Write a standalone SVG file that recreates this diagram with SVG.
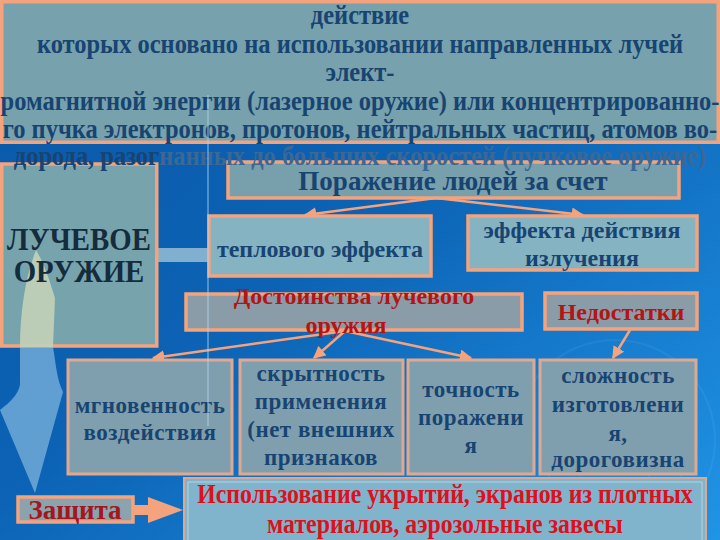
<svg xmlns="http://www.w3.org/2000/svg" width="720" height="540" viewBox="0 0 720 540">
<defs>
<linearGradient id="bg" x1="0" y1="0" x2="1" y2="1">
<stop offset="0" stop-color="#0a58a8"/>
<stop offset="0.45" stop-color="#0c62b4"/>
<stop offset="1" stop-color="#2094e6"/>
</linearGradient>
<marker id="ah" viewBox="0 0 10 10" refX="9" refY="5" markerWidth="5" markerHeight="5" orient="auto" markerUnits="strokeWidth">
<path d="M0,0 L10,5 L0,10 z" fill="#f4a37c"/>
</marker>
<style>
.box{stroke:#f4a37c;stroke-width:3.5}
.thin{stroke:#e2a88e;stroke-width:3}
.t{font-family:"Liberation Serif","Times New Roman",serif;font-weight:bold;text-anchor:middle}
.dk{fill:#174471}
.rd{fill:#b51414}
.conn{stroke:#f4a37c;stroke-width:2.5;fill:none}
</style>
</defs>
<rect width="720" height="540" fill="url(#bg)"/>
<g fill="none" stroke="#ffffff" stroke-opacity="0.06" stroke-width="2">
<circle cx="615" cy="440" r="50"/><circle cx="615" cy="440" r="75"/><circle cx="615" cy="440" r="100"/>
</g>

<g id="intro">
<rect class="box" x="1.75" y="1.75" width="716.5" height="140.5" fill="#77a1ac"/>
<g class="t dk" font-size="27.5" transform="translate(360 0) scale(0.89 1)">
<text x="0" y="24">действие</text>
<text x="0" y="53">которых основано на использовании направленных лучей</text>
<text x="0" y="81">элект-</text>
<text x="0" y="110">ромагнитной энергии (лазерное оружие) или концентрированно-</text>
<text x="0" y="138">го пучка электронов, протонов, нейтральных частиц, атомов во-</text>
</g>
</g>

<g id="connectors">
<rect x="157" y="248" width="52" height="14" fill="#a9c9d8" fill-opacity="0.75"/>
<line class="conn" x1="436" y1="198" x2="305" y2="215" marker-end="url(#ah)"/>
<line class="conn" x1="436" y1="198" x2="583" y2="215" marker-end="url(#ah)"/>
<line class="conn" x1="345" y1="331" x2="153" y2="358" marker-end="url(#ah)"/>
<line class="conn" x1="345" y1="331" x2="314" y2="358" marker-end="url(#ah)"/>
<line class="conn" x1="345" y1="331" x2="471" y2="358" marker-end="url(#ah)"/>
<line class="conn" x1="630" y1="330" x2="613" y2="358" marker-end="url(#ah)"/>
<path d="M133,505 L148,505 L148,497 L183,510 L148,523 L148,515 L133,515 z" fill="#f4a37c"/>
</g>

<g id="luchevoe">
<rect class="box" x="1.75" y="164" width="155" height="182" fill="#77a3ad"/>
<path d="M36,250 C45,265 50,282 55,298 L53,347 L20,347 C20,310 26,275 36,250 z" fill="#c2d2b8" fill-opacity="0.9"/>
<g class="t" fill="#142c3c" font-size="31" transform="translate(79 0) scale(0.93 1)">
<text x="0" y="250">ЛУЧЕВОЕ</text>
<text x="0" y="282">ОРУЖИЕ</text>
</g>
</g>

<path d="M20,347 L53,347 C56,365 57,380 63,392 L35,493 L0,410 C10,402 18,395 20,385 z" fill="#8fc0e2" fill-opacity="0.65"/>

<g id="porazhenie">
<rect class="box" x="228" y="162" width="451" height="36" fill="#789fac"/>
<text class="t dk" x="453" y="190" font-size="27">Поражение людей за счет</text>
</g>

<g class="t dk" font-size="27.5" transform="translate(360 0) scale(0.89 1)">
<text x="0" y="165">дорода, разог<tspan fill="#3b6895">нанных до больших скоростей (пучковое оружие)</tspan></text>
</g>

<g id="teplovoy">
<rect class="box" x="209" y="216" width="222" height="60" fill="#86b3c2"/>
<text class="t dk" x="320" y="257" font-size="24">теплового эффекта</text>
</g>

<g id="effekt">
<rect class="box" x="468" y="216" width="229" height="54" fill="#86b3c2"/>
<g class="t dk" font-size="24">
<text x="582" y="238">эффекта действия</text>
<text x="582" y="266">излучения</text>
</g>
</g>

<g id="dostoinstva">
<rect class="box" x="186" y="294" width="336" height="36" fill="#8a9ca8"/>
<g class="t rd" font-size="24">
<text x="354" y="304">Достоинства лучевого</text>
<text x="346" y="333">оружия</text>
</g>
</g>

<g id="nedostatki">
<rect class="box" x="545" y="293" width="152" height="36" fill="#8a9ca8"/>
<text class="t rd" x="621" y="320" font-size="24">Недостатки</text>
</g>

<g id="mgnovennost">
<rect class="thin" x="68" y="360" width="164" height="114" fill="#809fae"/>
<g class="t dk" font-size="23" letter-spacing="0.5">
<text x="150" y="413">мгновенность</text>
<text x="150" y="440">воздействия</text>
</g>
</g>

<g id="skrytnost">
<rect class="thin" x="240" y="360" width="163" height="114" fill="#809fae"/>
<g class="t dk" font-size="23" letter-spacing="0.5">
<text x="321" y="381">скрытность</text>
<text x="321" y="409">применения</text>
<text x="321" y="437">(нет внешних</text>
<text x="321" y="465">признаков</text>
</g>
</g>

<g id="tochnost">
<rect class="thin" x="408" y="360" width="126" height="114" fill="#809fae"/>
<g class="t dk" font-size="23" letter-spacing="0.5">
<text x="471" y="397">точность</text>
<text x="471" y="425">поражени</text>
<text x="471" y="453">я</text>
</g>
</g>

<g id="slozhnost">
<rect class="thin" x="540" y="360" width="156" height="114" fill="#809fae"/>
<g class="t dk" font-size="23" letter-spacing="0.5">
<text x="618" y="383">сложность</text>
<text x="618" y="412">изготовлени</text>
<text x="618" y="441">я,</text>
<text x="618" y="467">дороговизна</text>
</g>
</g>

<g id="ispolzovanie">
<rect x="184" y="478" width="522" height="66" fill="#80b4cc" stroke="#dca892" stroke-width="2"/>
<rect x="188" y="482" width="514" height="60" fill="none" stroke="#b8d2da" stroke-width="1"/>
<g class="t" fill="#de1020" font-size="26.5" transform="translate(445 0) scale(0.9 1)">
<text x="0" y="503">Использование укрытий, экранов из плотных</text>
<text x="0" y="533">материалов, аэрозольные завесы</text>
</g>
</g>

<g id="zashchita">
<rect class="box" x="18" y="497" width="115" height="25" fill="#8aa3ae"/>
<text class="t" fill="#a5161c" x="75" y="519" font-size="27">Защита</text>
</g>

<line x1="208" y1="95" x2="208" y2="426" stroke="#b4d8f2" stroke-opacity="0.55" stroke-width="1.5"/>
</svg>
